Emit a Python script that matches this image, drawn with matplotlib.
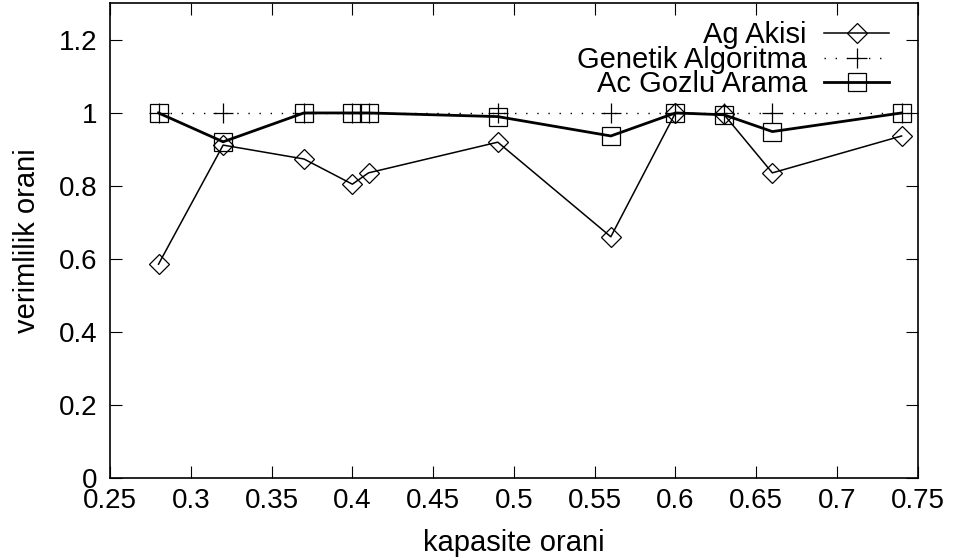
import matplotlib
matplotlib.use("Agg")
import matplotlib.pyplot as plt
import numpy as np

plt.rcParams['font.family'] = ['Liberation Sans', 'DejaVu Sans']

# kapasite orani
kapasite = [0.28, 0.32, 0.37, 0.40, 0.41, 0.49, 0.56, 0.60, 0.63, 0.66, 0.74]

ag_akisi = [0.586, 0.912, 0.874, 0.805, 0.836, 0.920, 0.661, 1.000, 0.996, 0.836, 0.937]
genetik = [1.0, 1.0, 1.0, 1.0, 1.0, 1.0, 1.0, 1.0, 1.0, 1.0, 1.0]
ac_gozlu = [1.000, 0.921, 1.000, 1.000, 1.000, 0.990, 0.937, 1.000, 0.995, 0.949, 1.000]

xticks = [0.25, 0.3, 0.35, 0.4, 0.45, 0.5, 0.55, 0.6, 0.65, 0.7, 0.75]
xtick_labels = ["0.25", "0.3", "0.35", "0.4", "0.45", "0.5", "0.55", "0.6", "0.65", "0.7", "0.75"]
yticks = [0, 0.2, 0.4, 0.6, 0.8, 1, 1.2]
ytick_labels = ["0", "0.2", "0.4", "0.6", "0.8", "1", "1.2"]

fig = plt.figure(figsize=(9.57, 5.6), dpi=100)
ax = fig.add_axes([0.115, 0.146, 0.844, 0.848])

ax.plot(kapasite, ag_akisi, color='black', lw=1.1, marker='D', ms=10.5,
        mfc='none', mec='black', mew=0.9, label='Ag Akisi')
ax.plot(kapasite, genetik, color='black', lw=1.0, ls=(0, (1, 7)), marker='+', ms=14.4,
        mew=0.9, label='Genetik Algoritma')
ax.plot(kapasite, ac_gozlu, color='black', lw=2.0, marker='s', ms=12.3,
        mfc='none', mec='black', mew=0.9, label='Ac Gozlu Arama')

ax.set_xlim(0.25, 0.75)
ax.set_ylim(0, 1.3)
ax.set_xticks(xticks)
ax.set_xticklabels(xtick_labels)
ax.set_yticks(yticks)
ax.set_yticklabels(ytick_labels)
ax.tick_params(direction='in', length=8.5, width=0.8, top=True, right=True,
               labelsize=20)
ax.tick_params(axis='x', pad=7)
ax.tick_params(axis='y', pad=9)
for s in ax.spines.values():
    s.set_linewidth(1.2)

ax.set_xlabel("kapasite orani", fontsize=21, labelpad=11)
ax.set_ylabel("verimlilik orani", fontsize=21, labelpad=13)

leg = ax.legend(loc='upper right', bbox_to_anchor=(0.965, 0.962), frameon=False,
                markerfirst=False, fontsize=21, labelspacing=-0.12,
                handlelength=2.24, handletextpad=0.59,
                borderaxespad=0.0, borderpad=0.0)
for col in leg._legend_handle_box.get_children():
    col.align = 'right'

fig.savefig("out.png", dpi=100)
